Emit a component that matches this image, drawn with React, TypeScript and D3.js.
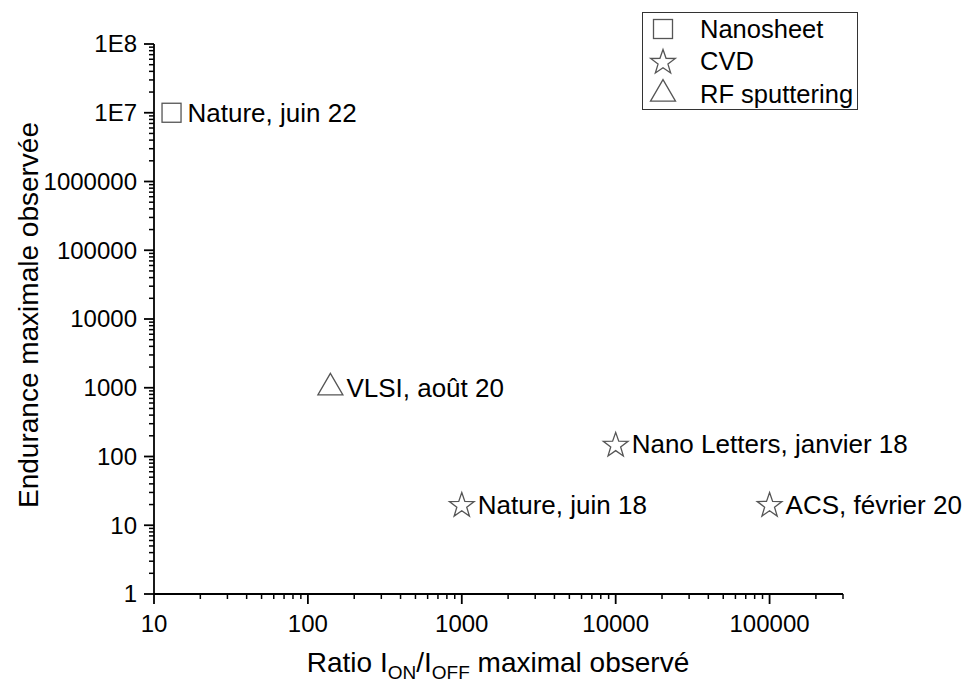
import React from "react";
import * as d3 from "d3";

const labels = ["Nature, juin 22", "VLSI, août 20", "Nano Letters, janvier 18", "Nature, juin 18", "ACS, février 20"];
const ratios = [13, 140, 10000, 1000, 100000];
const endurances = [1e7, 1000, 150, 20, 20];
const methods = ["Nanosheet", "RF sputtering", "CVD", "CVD", "CVD"];
const legendItems = ["Nanosheet", "CVD", "RF sputtering"];
const xTickValues = [10, 100, 1000, 10000, 100000];
const yTickValues = [1, 10, 100, 1000, 10000, 100000, 1000000, 1e7, 1e8];
const yTickLabels = ["1", "10", "100", "1000", "10000", "100000", "1000000", "1E7", "1E8"];

const W = 966, H = 684;
const FONT = "'Liberation Sans', Arial, sans-serif";
const MARK = "#555555";

function starPath(cx: number, cy: number, R: number, r: number) {
  const pts: string[] = [];
  for (let i = 0; i < 10; i++) {
    const a = -Math.PI / 2 + (i * Math.PI) / 5;
    const rad = i % 2 === 0 ? R : r;
    pts.push(`${cx + rad * Math.cos(a)},${cy + rad * Math.sin(a)}`);
  }
  return "M" + pts.join("L") + "Z";
}
function triPath(cx: number, cy: number, s: number) {
  const h = (s * Math.sqrt(3)) / 2;
  const top = cy - (2 * h) / 3;
  const bot = cy + h / 3;
  return `M${cx},${top}L${cx + s / 2},${bot}L${cx - s / 2},${bot}Z`;
}
function Marker({ kind, x, y }: { kind: string; x: number; y: number }) {
  if (kind === "Nanosheet")
    return <rect x={x - 9.5} y={y - 9.5} width={19} height={19} fill="white" stroke={MARK} strokeWidth={1.3} />;
  if (kind === "CVD")
    return <path d={starPath(x, y + 1, 13, 5.2)} fill="white" stroke={MARK} strokeWidth={1.3} strokeLinejoin="miter" />;
  return <path d={triPath(x, y, 25)} fill="white" stroke={MARK} strokeWidth={1.3} />;
}

export default function App() {
  const x = d3.scaleLog().domain([10, 300000]).range([154, 843]);
  const y = d3.scaleLog().domain([1, 1e8]).range([594, 44]);

  const xMinor: number[] = [];
  for (let d = 10; d < 300000; d *= 10) for (let k = 2; k <= 9; k++) if (d * k <= 300000) xMinor.push(d * k);
  const yMinor: number[] = [];
  for (let d = 1; d < 1e8; d *= 10) for (let k = 2; k <= 9; k++) yMinor.push(d * k);

  return (
    <svg width={W} height={H} style={{ position: "absolute", left: 0, top: 0, background: "white" }} fontFamily={FONT}>
      <rect x={0} y={0} width={W} height={H} fill="white" />
      {/* axes */}
      <line x1={x(10)} x2={x(300000)} y1={594} y2={594} stroke="black" strokeWidth={1.8} />
      <line x1={154} x2={154} y1={y(1e8)} y2={594} stroke="black" strokeWidth={1.8} />
      {xTickValues.map((v) => (
        <g key={"xt" + v}>
          <line x1={x(v)} x2={x(v)} y1={594} y2={604} stroke="black" strokeWidth={1.8} />
          <text x={x(v)} y={632} textAnchor="middle" fontSize={24}>{String(v)}</text>
        </g>
      ))}
      {xMinor.map((v) => (
        <line key={"xm" + v} x1={x(v)} x2={x(v)} y1={594} y2={599} stroke="black" strokeWidth={1.5} />
      ))}
      {yTickValues.map((v, i) => (
        <g key={"yt" + v}>
          <line x1={144} x2={154} y1={y(v)} y2={y(v)} stroke="black" strokeWidth={1.8} />
          <text x={137} y={y(v)} dy="0.35em" textAnchor="end" fontSize={24}>{yTickLabels[i]}</text>
        </g>
      ))}
      {yMinor.map((v) => (
        <line key={"ym" + v} x1={149} x2={154} y1={y(v)} y2={y(v)} stroke="black" strokeWidth={1.5} />
      ))}
      {/* axis titles */}
      <text x={498} y={672} textAnchor="middle" fontSize={28}>
        Ratio I<tspan fontSize={19} dy={7}>ON</tspan><tspan dy={-7}>/I</tspan><tspan fontSize={19} dy={7}>OFF</tspan><tspan dy={-7}> maximal observé</tspan>
      </text>
      <text transform={`translate(38,315) rotate(-90)`} textAnchor="middle" fontSize={28}>Endurance maximale observée</text>
      {/* points */}
      {ratios.map((r, i) => (
        <g key={"p" + i}>
          <Marker kind={methods[i]} x={x(r)} y={y(endurances[i])} />
          <text x={x(r) + 16} y={y(endurances[i])} dy="0.35em" fontSize={26}>{labels[i]}</text>
        </g>
      ))}
      {/* legend */}
      <rect x={642.5} y={12.5} width={215} height={97} fill="white" stroke="#333" strokeWidth={1} />
      {legendItems.map((m, i) => (
        <g key={"l" + i}>
          <Marker kind={m} x={663} y={29 + i * 32.5} />
          <text x={700} y={29 + i * 32.5} dy="0.35em" fontSize={25.5}>{m}</text>
        </g>
      ))}
    </svg>
  );
}
